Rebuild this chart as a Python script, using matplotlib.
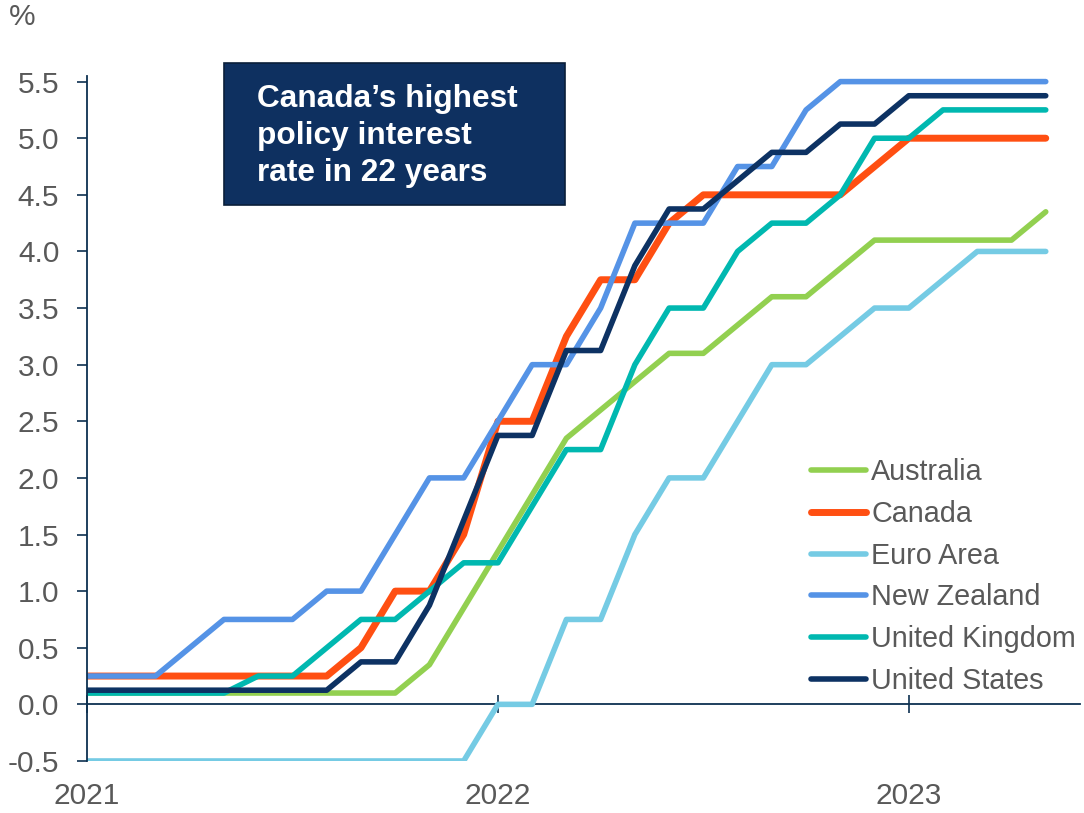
import matplotlib.pyplot as plt
from matplotlib.patches import Rectangle

plt.rcParams['font.family'] = ['Liberation Sans', 'DejaVu Sans']
plt.rcParams['axes.unicode_minus'] = False

# monthly policy rates, %
months = list(range(29))
australia = [0.1, 0.1, 0.1, 0.1, 0.1, 0.1, 0.1, 0.1, 0.1, 0.1, 0.35, 0.85, 1.35, 1.85, 2.35,
             2.6, 2.85, 3.1, 3.1, 3.35, 3.6, 3.6, 3.85, 4.1, 4.1, 4.1, 4.1, 4.1, 4.35]
canada = [0.25, 0.25, 0.25, 0.25, 0.25, 0.25, 0.25, 0.25, 0.5, 1.0, 1.0, 1.5, 2.5, 2.5, 3.25,
          3.75, 3.75, 4.25, 4.5, 4.5, 4.5, 4.5, 4.5, 4.75, 5.0, 5.0, 5.0, 5.0, 5.0]
euro_area = [-0.5, -0.5, -0.5, -0.5, -0.5, -0.5, -0.5, -0.5, -0.5, -0.5, -0.5, -0.5, 0.0, 0.0, 0.75,
             0.75, 1.5, 2.0, 2.0, 2.5, 3.0, 3.0, 3.25, 3.5, 3.5, 3.75, 4.0, 4.0, 4.0]
new_zealand = [0.25, 0.25, 0.25, 0.5, 0.75, 0.75, 0.75, 1.0, 1.0, 1.5, 2.0, 2.0, 2.5, 3.0, 3.0,
               3.5, 4.25, 4.25, 4.25, 4.75, 4.75, 5.25, 5.5, 5.5, 5.5, 5.5, 5.5, 5.5, 5.5]
united_kingdom = [0.1, 0.1, 0.1, 0.1, 0.1, 0.25, 0.25, 0.5, 0.75, 0.75, 1.0, 1.25, 1.25, 1.75, 2.25,
                  2.25, 3.0, 3.5, 3.5, 4.0, 4.25, 4.25, 4.5, 5.0, 5.0, 5.25, 5.25, 5.25, 5.25]
united_states = [0.125, 0.125, 0.125, 0.125, 0.125, 0.125, 0.125, 0.125, 0.375, 0.375, 0.875, 1.625,
                 2.375, 2.375, 3.125, 3.125, 3.875, 4.375, 4.375, 4.625, 4.875, 4.875, 5.125, 5.125,
                 5.375, 5.375, 5.375, 5.375, 5.375]

year_ticks = [0, 12, 24]
year_labels = ['2021', '2022', '2023']
yticks = [-0.5, 0.0, 0.5, 1.0, 1.5, 2.0, 2.5, 3.0, 3.5, 4.0, 4.5, 5.0, 5.5]

series = [
    ('Australia', australia, '#92D050', 4.0),
    ('Canada', canada, '#FF4F12', 5.0),
    ('Euro Area', euro_area, '#75CBE4', 4.0),
    ('New Zealand', new_zealand, '#5593E6', 4.0),
    ('United Kingdom', united_kingdom, '#00B8B0', 4.0),
    ('United States', united_states, '#0D3263', 4.0),
]

navy = '#0D3050'
grey = '#595959'

fig = plt.figure(figsize=(10.84, 8.13), dpi=100)
ax = fig.add_axes([0.0803, 0.064, 0.916, 0.8426])

for name, vals, col, lw in series:
    ax.plot(months, vals, color=col, lw=lw, label=name, solid_capstyle='round')

ymin, ymax = -0.5, 5.55
ax.set_xlim(0, 29)
ax.set_ylim(ymin, ymax)

for s in ['top', 'right', 'bottom']:
    ax.spines[s].set_visible(False)
ax.spines['left'].set_color(navy)
ax.spines['left'].set_linewidth(1.3)

ax.set_yticks(yticks)
ax.set_yticklabels(['%.1f' % v for v in yticks])
ax.tick_params(axis='y', colors=navy, labelcolor=grey, labelsize=21.5,
               length=7, width=1.2, pad=13)

ax.set_xticks(year_ticks)
ax.set_xticklabels(year_labels)
ax.tick_params(axis='x', length=0, labelcolor=grey, labelsize=21.5, pad=15)

# zero line with the year ticks crossing it
zero_axis = ax.secondary_xaxis((0 - ymin) / (ymax - ymin))
zero_axis.set_xticks(year_ticks)
zero_axis.set_xticklabels([])
zero_axis.spines['bottom'].set_color(navy)
zero_axis.spines['bottom'].set_linewidth(1.3)
zero_axis.tick_params(direction='inout', length=13, width=1.2, colors=navy)

fig.text(9 / 1084, 1 - 3 / 813, '%', ha='left', va='top', fontsize=21.5, color=grey)

leg = ax.legend(loc='upper left', bbox_to_anchor=(811 / 1084, 1 - 458 / 813),
                bbox_transform=fig.transFigure, frameon=False, fontsize=20.7,
                handlelength=1.9, handletextpad=0.2, labelspacing=0.48, borderpad=0,
                borderaxespad=0)
for t in leg.get_texts():
    t.set_color(grey)

# callout box
fig.patches.append(Rectangle((224 / 1084, 1 - 205 / 813), 341 / 1084, 142 / 813,
                             transform=fig.transFigure, facecolor='#0E3060',
                             edgecolor='#0A1F3A', lw=1.2, zorder=5))
fig.text(257 / 1084, 1 - 84 / 813, 'Canada’s highest\npolicy interest\nrate in 22 years',
         ha='left', va='top', fontsize=22.8, fontweight='bold', color='white',
         linespacing=1.3, zorder=6)

plt.savefig('out.png', dpi=100)
